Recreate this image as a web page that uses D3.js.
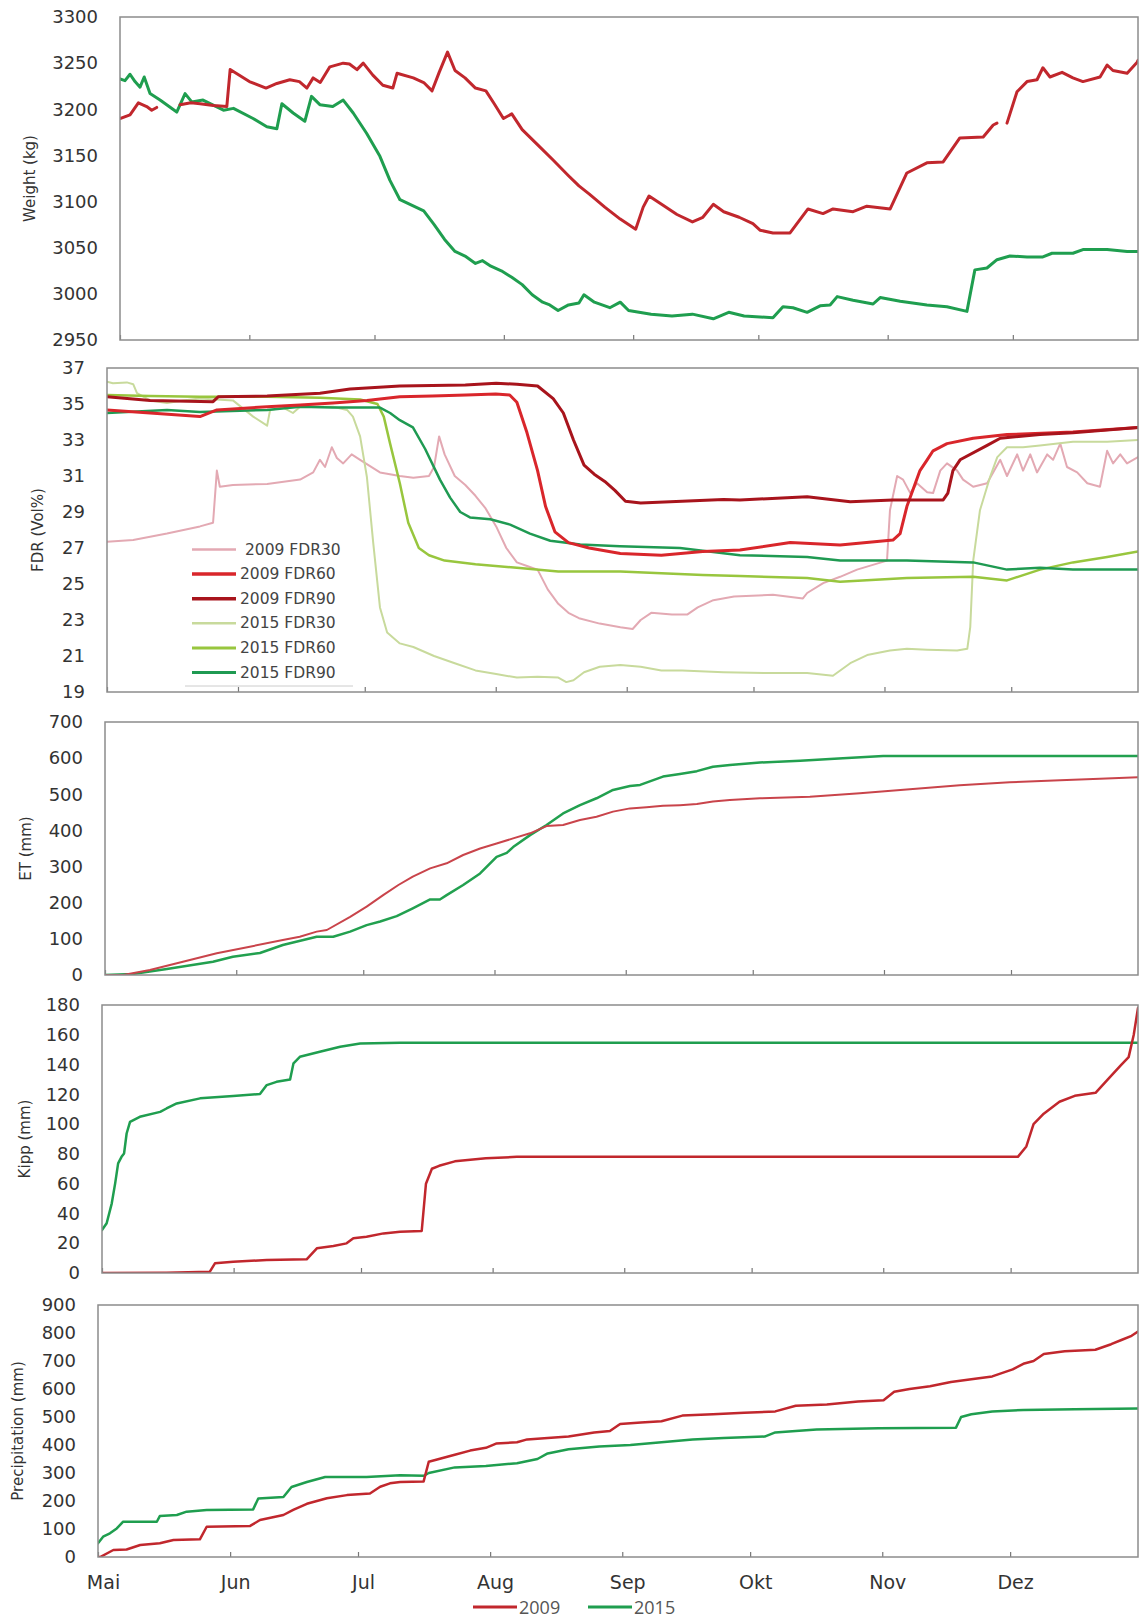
<!DOCTYPE html>
<html>
<head>
<meta charset="utf-8">
<script src="https://cdn.jsdelivr.net/npm/d3@7"></script>
<style>
  body { margin: 0; background: #fff; }
  svg { display: block; }
</style>
</head>
<body>
<svg id="chart" width="1140" height="1620"></svg>
<script>
// ---- Data: [day since 1 May, value]; null marks a gap in the record ----
const monthLabels = ["Mai", "Jun", "Jul", "Aug", "Sep", "Okt", "Nov", "Dez"];

const weight2009 = [[0,3190],[2.4,3194],[4.4,3207],[6.4,3203],[7.6,3199],[8.8,3202],[11,null],[14.4,3205],[17,3207],[19.2,3206],[22.4,3204],[25.6,3203],[26.4,3243],[31,3230],[35,3223],[37.6,3228],[40.7,3232],[43,3230],[44.8,3223],[46.3,3234],[48,3229],[50.3,3246],[53.5,3250],[55,3249],[56.8,3243],[58.3,3250],[60.6,3237],[63,3226],[65.4,3223],[66.4,3239],[70.3,3234],[72.8,3229],[74.8,3220],[76.5,3240],[78.5,3262],[80.3,3242],[82.7,3234],[85.2,3223],[87.7,3220],[89.7,3206],[91.9,3190],[93.9,3195],[96.4,3178],[100,3162],[103.8,3145],[107.5,3128],[110,3117],[112.5,3108],[116.2,3094],[119.9,3081],[123.6,3070],[125.4,3094],[126.8,3106],[129.8,3097],[133.5,3086],[137.2,3078],[139.7,3083],[142.2,3097],[144.7,3089],[148.4,3083],[151.7,3076],[153.4,3069],[156.5,3066],[160.6,3066],[164.9,3092],[168.5,3087],[170.9,3092],[175.7,3089],[179,3095],[184.6,3092],[188.6,3131],[193.4,3142],[197.3,3143],[201.3,3169],[206.9,3170],[209.3,3183],[210.2,3185],[211.4,null],[212.6,3185],[215,3219],[217.4,3230],[219.8,3232],[221.2,3245],[222.9,3235],[225.8,3240],[228.4,3234],[230.8,3230],[234.9,3235],[236.6,3248],[238,3242],[241.4,3239],[243.8,3251],[244,3253]];

const weight2015 = [[0,3233],[1.2,3231],[2.4,3238],[3.6,3230],[4.8,3224],[5.8,3235],[7.2,3217],[9.6,3210],[13.6,3197],[15.6,3217],[17.2,3208],[19.9,3210],[24.8,3199],[27.2,3201],[31.9,3190],[35.2,3181],[37.6,3179],[38.8,3206],[41.5,3196],[44.3,3187],[45.9,3214],[47.9,3205],[51,3203],[53.5,3210],[55.9,3196],[59.1,3174],[62.3,3149],[64.7,3123],[67.1,3102],[72.8,3090],[75.3,3075],[77.8,3059],[80.3,3046],[82.7,3041],[85.2,3033],[86.9,3036],[88.9,3030],[91.4,3025],[93.9,3018],[96.4,3010],[98.8,2999],[101.3,2991],[103,2988],[105,2982],[107.5,2988],[110,2990],[111.2,2999],[113.7,2991],[117.4,2985],[119.9,2991],[121.9,2982],[127.3,2978],[132.3,2976],[137.2,2978],[142.2,2973],[145.9,2980],[149.6,2976],[153.4,2975],[156.5,2974],[158.9,2986],[161.3,2985],[164.7,2980],[167.8,2987],[170.2,2988],[171.9,2997],[175.7,2993],[180.5,2989],[182.2,2996],[187,2992],[193.4,2988],[198.2,2986],[203,2981],[204.9,3026],[207.8,3028],[210.2,3037],[213.3,3041],[217.4,3040],[221.2,3040],[223.4,3044],[228.4,3044],[230.8,3048],[236.6,3048],[241.4,3046],[244,3046]];

const fdr2009_30 = [[0,27.35],[6.2,27.44],[14.2,27.8],[22,28.2],[25.1,28.4],[26,31.3],[26.7,30.4],[29.8,30.5],[37.9,30.56],[45.7,30.8],[48.8,31.2],[50.4,31.9],[51.6,31.5],[53.2,32.6],[54.4,32.0],[55.9,31.7],[57.9,32.2],[59.9,31.9],[64.6,31.2],[69.3,31.0],[72.5,30.9],[76.2,31.0],[77.4,31.5],[78.6,33.2],[79.9,32.2],[82.3,31.0],[84.8,30.5],[87.2,29.9],[89.6,29.2],[92.1,28.2],[94.5,27.0],[97,26.2],[99.4,26.0],[101.9,25.8],[104.3,24.7],[106.8,23.9],[109.2,23.4],[111.7,23.1],[116.6,22.8],[121.5,22.6],[124.4,22.5],[126.3,23.0],[128.8,23.4],[133.7,23.3],[137.3,23.3],[139.8,23.7],[143.5,24.1],[148.4,24.3],[157.6,24.4],[164.7,24.2],[165.7,24.5],[169.5,25.05],[173.5,25.4],[177.5,25.8],[184.6,26.3],[185.3,29.1],[187,31.0],[188.4,30.8],[190.1,30.05],[191.7,30.6],[194.1,30.1],[195.5,30.05],[197.2,31.3],[198.8,31.7],[201.2,31.3],[202.6,30.8],[205,30.4],[208.3,30.6],[211.4,31.9],[213,31.0],[215.4,32.2],[216.8,31.3],[218.5,32.2],[220.1,31.2],[222.5,32.2],[223.9,31.9],[225.6,32.8],[227.2,31.5],[229.6,31.2],[232,30.6],[235,30.4],[236.7,32.4],[238.1,31.7],[239.8,32.2],[241.4,31.7],[244,32.05]];

const fdr2009_60 = [[0,34.67],[10.2,34.5],[22,34.3],[26,34.67],[37.9,34.85],[45.7,34.94],[53.5,35.05],[61.5,35.2],[69.3,35.4],[77,35.45],[85,35.5],[92,35.55],[95.3,35.5],[97,35.1],[99.4,33.4],[101.9,31.3],[103.8,29.3],[106,27.9],[109.2,27.3],[114.1,27.0],[121.5,26.7],[131.2,26.6],[141,26.8],[149.8,26.89],[161.7,27.3],[173.5,27.17],[186,27.44],[187.7,27.8],[189.3,29.3],[192.4,31.3],[194.1,31.9],[195.5,32.4],[198.8,32.8],[205,33.1],[213,33.3],[228.6,33.45],[244,33.7]];

const fdr2009_90 = [[0,35.4],[10.2,35.2],[25.1,35.13],[26.3,35.4],[37.9,35.44],[50.4,35.6],[57.5,35.83],[69.3,36.0],[84.8,36.05],[92.1,36.15],[97,36.1],[101.9,36.0],[105.6,35.3],[108,34.5],[110.4,33.0],[112.9,31.6],[115.3,31.1],[117.8,30.7],[120.2,30.2],[122.7,29.6],[126.3,29.5],[136.1,29.6],[145.9,29.7],[149.8,29.67],[165.7,29.85],[175.9,29.57],[186,29.67],[197.9,29.67],[199,30.05],[200.2,31.3],[201.9,31.9],[208.3,32.7],[211.4,33.1],[220.8,33.3],[228.6,33.4],[244,33.7]];

const fdr2015_30 = [[0,36.24],[1.4,36.15],[4.7,36.2],[6.2,36.1],[7.1,35.6],[10.2,35.2],[14.2,35.05],[18,35.2],[22,35.3],[29.8,35.2],[34.6,34.3],[37.9,33.8],[38.6,34.67],[41.7,34.8],[44,34.5],[45.7,34.85],[53.5,34.85],[56.8,34.67],[58.2,34.3],[59.9,33.2],[61.5,30.96],[63,27.3],[64.6,23.7],[66.3,22.3],[69.3,21.7],[72.5,21.5],[77.4,21.0],[82.3,20.6],[87.2,20.2],[92.1,20.0],[97,19.8],[101.9,19.85],[106.8,19.8],[108.7,19.55],[110.4,19.65],[112.9,20.1],[116.6,20.4],[121.5,20.5],[126.3,20.4],[131.2,20.2],[136.1,20.2],[145.9,20.1],[155.7,20.05],[165.7,20.05],[171.8,19.9],[175.9,20.6],[179.9,21.05],[185.3,21.3],[189.3,21.4],[194.1,21.35],[201.2,21.3],[203.6,21.4],[204.3,22.6],[205,26.3],[206.6,29.1],[209,30.96],[210.7,32.05],[213,32.6],[216.8,32.6],[220.8,32.7],[228.6,32.9],[236.7,32.9],[244,33.0]];

const fdr2015_60 = [[0,35.5],[10.2,35.45],[22,35.4],[37.9,35.4],[50.4,35.35],[59.9,35.25],[64,35.0],[65.5,34.3],[67,32.8],[69.3,30.6],[71.3,28.4],[73.8,27.0],[76.2,26.6],[79.9,26.3],[87.2,26.1],[97,25.9],[106.8,25.7],[121.5,25.7],[131.2,25.6],[141,25.5],[149.8,25.44],[165.7,25.33],[173.5,25.13],[189.3,25.33],[205,25.4],[213,25.2],[220.8,25.8],[228.6,26.2],[236.7,26.5],[244,26.8]];

const fdr2015_90 = [[0,34.5],[14.2,34.67],[22,34.55],[37.9,34.67],[45.7,34.85],[53.5,34.8],[64.6,34.8],[67,34.5],[69.3,34.1],[72.4,33.7],[75.3,32.5],[78.8,30.8],[81.2,29.8],[83.6,29.0],[85.9,28.7],[90.7,28.6],[95.4,28.3],[100.1,27.8],[104.9,27.4],[112,27.2],[121.4,27.1],[135.6,27.0],[149.8,26.6],[165.7,26.5],[173.5,26.3],[189.3,26.3],[205,26.2],[213,25.8],[220.8,25.9],[228.6,25.8],[244,25.8]];

const et2009 = [[0,0],[4.3,0],[10.6,13.8],[18.4,36.9],[26.4,60],[34.2,78.4],[42,96.8],[46,106],[50,120],[52.4,124.5],[57.9,161],[61.8,189],[65.7,221],[69.3,249],[72.7,272],[76.8,295],[80.7,309],[84.6,332],[88.6,350],[92.5,364],[96.4,378],[100.4,392],[104.3,412],[108.2,415],[112.2,429],[116.1,438],[120,452],[124,461],[127.9,464],[131.8,468],[135.8,470],[139.8,473],[143.6,480],[147.6,484],[154.7,489],[166.5,493],[178.3,503],[190.1,514],[201.9,525],[213.7,533],[225.6,539],[235,543],[244,547]];

const et2015 = [[0,0],[6.6,2.8],[14.6,16.6],[25.5,36.9],[30.2,50.7],[36.6,60.9],[42,83],[50,106],[53.9,106],[57.9,120],[61.8,138],[65,148],[68.9,163],[72.7,184.5],[76.8,209],[79.1,209],[80.7,221],[84.6,249],[88.6,281],[92.5,327],[94.9,338],[96.4,354],[100.4,387],[104.3,415],[108.2,447],[112.2,470],[116.1,489],[120,512],[124,523],[126.4,526],[131.8,549],[135.8,556],[139.8,564],[143.6,576],[147.6,581],[154.7,588],[164.2,593],[174.3,600],[183.8,606],[244,606]];

const kipp2009 = [[0,0],[15.2,0.2],[25.4,0.9],[26.6,6.5],[30.9,7.6],[38.8,8.7],[48.2,9.2],[50.6,16.6],[54.5,18.1],[57.6,19.9],[59.2,23.3],[62.3,24.4],[66.3,26.6],[70.2,27.7],[75.3,28.2],[76.3,60],[77.7,70],[79.4,72],[83.1,75],[90.4,77],[97.7,78],[215.7,78],[217.7,85],[219.4,100],[221.8,107],[225.5,115],[229.1,119],[234,121],[236.9,130],[240.1,140],[241.8,145],[243,160],[244,178]];

const kipp2015 = [[0,28.9],[1.1,33.4],[2.3,46.8],[3.1,60.2],[3.8,73.6],[4.6,78],[5.2,80.3],[5.8,93.7],[6.6,101.5],[8.9,104.9],[13.7,108.2],[15.2,110.5],[17.6,113.9],[23.1,117.3],[30.9,118.8],[37.2,120.2],[38.8,126.2],[41.1,128.4],[44.3,130],[45.1,140.8],[46.6,145.2],[51.3,148.6],[56.1,151.9],[60.8,154.2],[70.2,154.6],[244,154.6]];

const prec2009 = [[0,0],[0.5,0],[3.6,25],[6.7,27],[9.9,43],[14.5,49],[17.7,61],[23.9,63],[25.5,108],[35.7,111],[38,132],[43.5,150],[45.8,168],[49,190],[53.7,210],[58.4,221],[63.8,227],[66.2,251],[68.5,263],[70.9,268],[76.4,270],[77.6,340],[80,350],[83.7,365],[87.3,380],[91,390],[93.4,405],[98.3,410],[100.7,420],[105.5,425],[110.4,430],[116.4,445],[120.1,450],[122.5,475],[127.4,480],[132.2,485],[137.1,505],[144.3,510],[151.6,515],[158.9,520],[163.7,540],[171,545],[178.3,555],[184.3,560],[186.8,590],[190.4,600],[195.2,610],[200.1,625],[204.9,635],[209.8,645],[214.6,670],[217.1,690],[219.5,700],[221.9,725],[226.8,735],[234,740],[237.7,760],[240.1,775],[242.5,790],[244,805]];

const prec2015 = [[0,49],[1.2,72.6],[2.8,84.5],[4.4,102],[5.9,126],[13.8,126],[14.5,146],[18.5,150],[20.8,162],[25.5,168],[36.4,170],[37.6,209],[43.5,214],[45.4,250],[49,268],[53.3,286],[63,286],[70.9,292],[76.4,290],[77.6,300],[83.7,320],[91,325],[98.3,335],[103.1,350],[105.5,370],[110.4,385],[117.6,395],[124.9,400],[132.2,410],[139.5,420],[146.8,425],[156.4,430],[158.9,445],[163.7,450],[168.6,455],[183.1,460],[201.3,462],[202.5,500],[204.9,510],[209.8,520],[217.1,525],[229.2,528],[244,530]];

// ---- Colours ----
const RED = "#c1272d", GREEN = "#1f9e4f";

// ---- Panel layout ----
const RIGHT = 1138;
const START = Date.UTC(2009, 4, 1);
const toDate = d => new Date(START + d * 864e5);
const monthStarts = d3.utcMonth.range(toDate(0), toDate(244));

const panels = [
  { id: "w", top: 17, bottom: 340, left: 120, domain: [2950, 3300], step: 50,
    title: "Weight (kg)", titleX: 30,
    series: [ { data: weight2015, color: GREEN, width: 3 },
              { data: weight2009, color: RED, width: 3 } ] },
  { id: "f", top: 368, bottom: 692, left: 107, domain: [19, 37], step: 2,
    title: "FDR (Vol%)", titleX: 38,
    series: [ { data: fdr2009_30, color: "#e3a9b3", width: 2, name: "2009 FDR30" },
              { data: fdr2009_60, color: "#d9262b", width: 3, name: "2009 FDR60" },
              { data: fdr2009_90, color: "#a8141c", width: 3, name: "2009 FDR90" },
              { data: fdr2015_30, color: "#c8da9c", width: 2, name: "2015 FDR30" },
              { data: fdr2015_60, color: "#98c63e", width: 2.5, name: "2015 FDR60" },
              { data: fdr2015_90, color: "#1f9a52", width: 2.5, name: "2015 FDR90" } ],
    order: [0, 3, 4, 5, 1, 2] },
  { id: "e", top: 722, bottom: 975, left: 105, domain: [0, 700], step: 100,
    title: "ET (mm)", titleX: 26,
    series: [ { data: et2015, color: "#22a04f", width: 2.5 },
              { data: et2009, color: "#c9444b", width: 2 } ] },
  { id: "k", top: 1005, bottom: 1273, left: 102, domain: [0, 180], step: 20,
    title: "Kipp (mm)", titleX: 25,
    series: [ { data: kipp2015, color: GREEN, width: 2.5 },
              { data: kipp2009, color: RED, width: 2.5 } ] },
  { id: "p", top: 1305, bottom: 1557, left: 98, domain: [0, 900], step: 100,
    title: "Precipitation (mm)", titleX: 18, monthLabels: true,
    series: [ { data: prec2015, color: GREEN, width: 2.5 },
              { data: prec2009, color: RED, width: 2.5 } ] }
];

const svg = d3.select("#chart");
const FONT = "DejaVu Sans, Verdana, sans-serif";

panels.forEach(p => {
  const x = d3.scaleUtc().domain([toDate(0), toDate(244)]).range([p.left, RIGHT]);
  const y = d3.scaleLinear().domain(p.domain).range([p.bottom, p.top]);
  const g = svg.append("g");

  // clip region for the plotted lines
  svg.append("clipPath").attr("id", "clip-" + p.id)
    .append("rect").attr("x", p.left).attr("y", p.top)
    .attr("width", RIGHT - p.left).attr("height", p.bottom - p.top);

  // y axis labels
  const yAxis = d3.axisLeft(y)
    .tickValues(d3.range(p.domain[0], p.domain[1] + p.step / 2, p.step))
    .tickFormat(d3.format("d"))
    .tickSize(0).tickPadding(22);
  const ya = g.append("g").attr("transform", `translate(${p.left},0)`).call(yAxis);
  ya.select(".domain").remove();
  ya.selectAll("text").attr("font-family", FONT).attr("font-size", 18).attr("fill", "#333");

  // x axis: month ticks pointing into the plot
  const xAxis = d3.axisBottom(x).tickValues(monthStarts).tickSize(-5).tickPadding(19)
    .tickFormat((d, i) => p.monthLabels ? monthLabels[i] : "");
  const xa = g.append("g").attr("transform", `translate(0,${p.bottom})`).call(xAxis);
  xa.select(".domain").remove();
  xa.selectAll("line").attr("stroke", "#777").attr("stroke-width", 1.2);
  xa.selectAll("text").attr("font-family", FONT).attr("font-size", 19)
    .attr("fill", "#333").attr("dx", 5);

  // axis title
  g.append("text")
    .attr("transform", `translate(${p.titleX},${(p.top + p.bottom) / 2}) rotate(-90)`)
    .attr("text-anchor", "middle").attr("dominant-baseline", "central")
    .attr("font-family", FONT).attr("font-size", 15).attr("fill", "#333")
    .text(p.title);

  // lines
  const line = d3.line()
    .defined(d => d[1] != null)
    .x(d => x(toDate(d[0])))
    .y(d => y(d[1]));
  const order = p.order || p.series.map((_, i) => i);
  const lg = g.append("g").attr("clip-path", `url(#clip-${p.id})`);
  order.forEach(i => {
    const s = p.series[i];
    lg.append("path").datum(s.data)
      .attr("fill", "none").attr("stroke", s.color).attr("stroke-width", s.width)
      .attr("stroke-linejoin", "round").attr("stroke-linecap", "round")
      .attr("d", line);
  });

  // frame
  g.append("rect").attr("x", p.left).attr("y", p.top)
    .attr("width", RIGHT - p.left).attr("height", p.bottom - p.top)
    .attr("fill", "none").attr("stroke", "#8c8c8c").attr("stroke-width", 1.5);

  // FDR legend inside the plot
  if (p.id === "f") {
    const leg = g.append("g");
    p.series.forEach((s, i) => {
      const ly = 549.5 + i * 24.6;
      leg.append("line").attr("x1", 192).attr("x2", 236).attr("y1", ly).attr("y2", ly)
        .attr("stroke", s.color).attr("stroke-width", s.width + 0.5);
      leg.append("text").attr("x", i === 0 ? 245 : 240).attr("y", ly)
        .attr("dominant-baseline", "central")
        .attr("font-family", FONT).attr("font-size", 15.5).attr("fill", "#444")
        .text(s.name);
    });
    leg.append("line").attr("x1", 185).attr("x2", 353).attr("y1", 686).attr("y2", 686)
      .attr("stroke", "#ccc").attr("stroke-width", 1);
  }
});

// bottom legend
const legendItems = [
  { name: "2009", color: RED, x: 473 },
  { name: "2015", color: GREEN, x: 588 }
];
const bl = svg.append("g");
legendItems.forEach(it => {
  bl.append("line").attr("x1", it.x).attr("x2", it.x + 44).attr("y1", 1607).attr("y2", 1607)
    .attr("stroke", it.color).attr("stroke-width", 3);
  bl.append("text").attr("x", it.x + 46).attr("y", 1607).attr("dominant-baseline", "central")
    .attr("font-family", "Open Sans, DejaVu Sans, sans-serif").attr("font-size", 18).attr("fill", "#555")
    .text(it.name);
});
</script>
</body>
</html>
